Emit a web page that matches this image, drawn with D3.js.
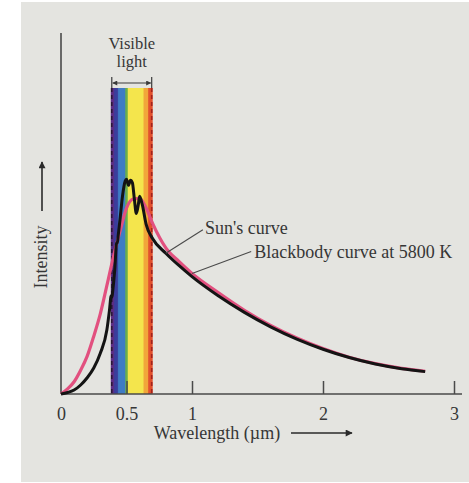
<!DOCTYPE html>
<html>
<head>
<meta charset="utf-8">
<script src="https://cdn.jsdelivr.net/npm/d3@7"></script>
<style>
  html, body { margin: 0; padding: 0; background: #ffffff; }
  svg { display: block; }
  text { font-family: "Liberation Serif", "DejaVu Serif", serif; fill: #363636; }
</style>
</head>
<body>
<svg id="chart" width="469" height="483"></svg>
<script>
// Sun's measured spectrum (wavelength in µm, relative intensity)
const sunWavelength = [0, 0.05, 0.1, 0.15, 0.2, 0.25, 0.3, 0.35, 0.37, 0.383, 0.389, 0.395, 0.41, 0.425, 0.43, 0.437,
  0.45, 0.47, 0.49, 0.5, 0.515, 0.53, 0.545, 0.56, 0.575, 0.59, 0.6, 0.62, 0.65, 0.7, 0.8, 0.9, 1.0,
  1.2, 1.4, 1.6, 1.8, 2.0, 2.2, 2.4, 2.6, 2.78];
const sunIntensity = [0, 0.004, 0.011, 0.025, 0.045, 0.072, 0.113, 0.177, 0.232, 0.272, 0.268, 0.286, 0.343, 0.42, 0.418, 0.44,
  0.482, 0.55, 0.59, 0.595, 0.578, 0.592, 0.585, 0.54, 0.5, 0.524, 0.548, 0.525, 0.47, 0.43, 0.39, 0.356, 0.325,
  0.272, 0.226, 0.186, 0.152, 0.124, 0.101, 0.083, 0.070, 0.062];

// Ideal blackbody at 5800 K
const bbWavelength = [0, 0.05, 0.1, 0.15, 0.2, 0.25, 0.3, 0.35, 0.4, 0.45, 0.5, 0.55, 0.6, 0.65, 0.7, 0.8, 0.9, 1.0,
  1.2, 1.4, 1.6, 1.8, 2.0, 2.2, 2.4, 2.6, 2.78];
const bbIntensity = [0, 0.014, 0.034, 0.066, 0.105, 0.16, 0.222, 0.3, 0.38, 0.45, 0.515, 0.54, 0.542, 0.515, 0.472, 0.405, 0.367, 0.334,
  0.281, 0.232, 0.19, 0.155, 0.126, 0.102, 0.084, 0.071, 0.063];

// Visible band limits and spectrum stripes (µm)
const visibleRange = [0.38, 0.70];
const stripeEdges = [0.38, 0.405, 0.435, 0.49, 0.51, 0.63, 0.665, 0.70];
const stripeColors = ["#5b2d84", "#3a3d9c", "#3f7cc4", "#6aae4c", "#f4e54c", "#f1a63a", "#e2502d"];

const xTicks = [0, 0.5, 1, 2, 3];
const xTickLabels = ["0", "0.5", "1", "2", "3"];

const svg = d3.select("#chart");

// paper background
svg.append("rect").attr("x", 21).attr("y", 2).attr("width", 448).attr("height", 480).attr("fill", "#e4e4e0");

const x = d3.scaleLinear().domain([0, 3]).range([61, 454]);
const y = d3.scaleLinear().domain([0, 1]).range([394, 33]);

const defs = svg.append("defs");
const grad = defs.append("linearGradient").attr("id", "spectrum")
  .attr("x1", 0).attr("x2", 1).attr("y1", 0).attr("y2", 0);
const span = visibleRange[1] - visibleRange[0];
stripeColors.forEach((c, i) => {
  // slight blend at each stripe boundary
  const a = (stripeEdges[i] - visibleRange[0]) / span;
  const b = (stripeEdges[i + 1] - visibleRange[0]) / span;
  const inset = Math.min(0.015, (b - a) / 4);
  grad.append("stop").attr("offset", i === 0 ? a : a + inset).attr("stop-color", c);
  grad.append("stop").attr("offset", i === stripeColors.length - 1 ? b : b - inset).attr("stop-color", c);
});

// arrowheads
defs.append("marker").attr("id", "arrow").attr("viewBox", "0 0 10 10")
  .attr("refX", 9).attr("refY", 5).attr("markerWidth", 7).attr("markerHeight", 5)
  .attr("orient", "auto-start-reverse").attr("markerUnits", "userSpaceOnUse")
  .append("path").attr("d", "M0,0 L10,5 L0,10 Z").attr("fill", "#3a3a3a");
defs.append("marker").attr("id", "bigArrow").attr("viewBox", "0 0 10 10")
  .attr("refX", 9).attr("refY", 5).attr("markerWidth", 11).attr("markerHeight", 7)
  .attr("orient", "auto").attr("markerUnits", "userSpaceOnUse")
  .append("path").attr("d", "M0,0 L10,5 L0,10 Z").attr("fill", "#2a2a2a");

// visible-light band
const bandTop = 88;
svg.append("rect")
  .attr("x", x(visibleRange[0])).attr("y", bandTop)
  .attr("width", x(visibleRange[1]) - x(visibleRange[0]))
  .attr("height", y(0) - bandTop)
  .attr("fill", "url(#spectrum)");
svg.append("line")
  .attr("x1", x(visibleRange[0]) + 1).attr("x2", x(visibleRange[0]) + 1)
  .attr("y1", bandTop).attr("y2", y(0))
  .attr("stroke", "#2b1838").attr("stroke-width", 1.6).attr("stroke-dasharray", "4,3");
svg.append("line")
  .attr("x1", x(visibleRange[1]) - 1).attr("x2", x(visibleRange[1]) - 1)
  .attr("y1", bandTop).attr("y2", y(0))
  .attr("stroke", "#a3231c").attr("stroke-width", 1.6).attr("stroke-dasharray", "4,3");

// bracket above the band
const bracketY = 83;
svg.append("line")
  .attr("x1", x(visibleRange[0]) + 2).attr("x2", x(visibleRange[1]) - 2)
  .attr("y1", bracketY).attr("y2", bracketY)
  .attr("stroke", "#3a3a3a").attr("stroke-width", 1.2)
  .attr("marker-start", "url(#arrow)").attr("marker-end", "url(#arrow)");
visibleRange.forEach((v, i) => {
  const px = x(v) + (i === 0 ? 1 : -1);
  svg.append("line").attr("x1", px).attr("x2", px)
    .attr("y1", bracketY - 6).attr("y2", bracketY + 5)
    .attr("stroke", "#3a3a3a").attr("stroke-width", 1.2);
});
const bandMid = x((visibleRange[0] + visibleRange[1]) / 2);
svg.append("text").attr("x", bandMid).attr("y", 48.5).attr("text-anchor", "middle")
  .attr("font-size", 16.5).text("Visible");
svg.append("text").attr("x", bandMid).attr("y", 67).attr("text-anchor", "middle")
  .attr("font-size", 16.5).text("light");

// axes
svg.append("line").attr("x1", x(0)).attr("x2", x(0)).attr("y1", y(1)).attr("y2", y(0))
  .attr("stroke", "#4a4a4a").attr("stroke-width", 1.6);
svg.append("line").attr("x1", x(0)).attr("x2", x(3) + 8).attr("y1", y(0)).attr("y2", y(0))
  .attr("stroke", "#4a4a4a").attr("stroke-width", 1.6);

const xAxis = d3.axisBottom(x).tickValues(xTicks)
  .tickFormat((d, i) => xTickLabels[i]).tickSize(0).tickPadding(13);
const gx = svg.append("g").attr("transform", `translate(0,${y(0)})`).call(xAxis);
gx.select(".domain").remove();
gx.selectAll("text").attr("font-size", 18).attr("font-family", "Liberation Serif, serif").attr("fill", "#363636");
gx.selectAll(".tick").filter(d => d > 0).append("line")
  .attr("y1", 0).attr("y2", -13).attr("stroke", "#4a4a4a").attr("stroke-width", 1.5);

// blackbody curve (under the Sun's curve)
const bbData = bbWavelength.map((w, i) => [w, bbIntensity[i]]);
const sunData = sunWavelength.map((w, i) => [w, sunIntensity[i]]);

svg.append("path").datum(bbData)
  .attr("d", d3.line().x(d => x(d[0])).y(d => y(d[1])).curve(d3.curveMonotoneX))
  .attr("fill", "none").attr("stroke", "#e2507f").attr("stroke-width", 3.2);

svg.append("path").datum(sunData)
  .attr("d", d3.line().x(d => x(d[0])).y(d => y(d[1])).curve(d3.curveMonotoneX))
  .attr("fill", "none").attr("stroke", "#141414").attr("stroke-width", 3)
  .attr("stroke-linejoin", "round");

// curve labels with leader lines
const labels = [
  { text: "Sun's curve", tx: 1.10, ty: 0.443, lx: 1.083, ly: 0.455,
    target: [0.8, sunIntensity[sunWavelength.indexOf(0.8)]] },
  { text: "Blackbody curve at 5800 K", tx: 1.475, ty: 0.377, lx: 1.452, ly: 0.395,
    target: [1.0, bbIntensity[bbWavelength.indexOf(1.0)]] }
];
labels.forEach(l => {
  svg.append("line")
    .attr("x1", x(l.lx)).attr("y1", y(l.ly))
    .attr("x2", x(l.target[0])).attr("y2", y(l.target[1]))
    .attr("stroke", "#4a4a4a").attr("stroke-width", 1.1);
  svg.append("text").attr("x", x(l.tx)).attr("y", y(l.ty))
    .attr("font-size", 18).text(l.text);
});

// axis titles with arrows
svg.append("text").attr("x", 217).attr("y", 439).attr("text-anchor", "middle")
  .attr("font-size", 18).text("Wavelength (µm)");
svg.append("line").attr("x1", 291).attr("x2", 352).attr("y1", 433).attr("y2", 433)
  .attr("stroke", "#2a2a2a").attr("stroke-width", 1.6).attr("marker-end", "url(#bigArrow)");

svg.append("text").attr("transform", "translate(47,257) rotate(-90)").attr("text-anchor", "middle")
  .attr("font-size", 18).text("Intensity");
svg.append("line").attr("x1", 42).attr("x2", 42).attr("y1", 211).attr("y2", 162)
  .attr("stroke", "#2a2a2a").attr("stroke-width", 1.6).attr("marker-end", "url(#bigArrow)");
</script>
</body>
</html>
